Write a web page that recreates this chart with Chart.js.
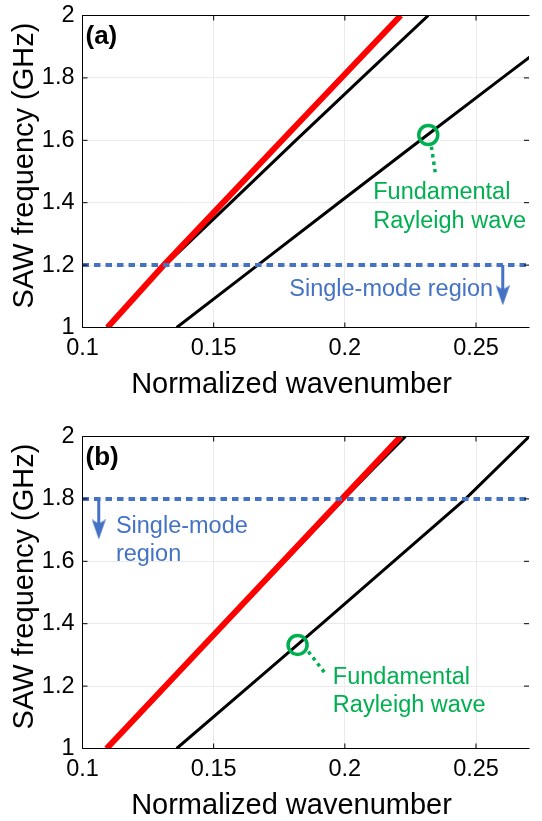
<!DOCTYPE html>
<html>
<head>
<meta charset="utf-8">
<script src="https://cdn.jsdelivr.net/npm/chart.js@4.4.1/dist/chart.umd.min.js"></script>
<style>
  html, body { margin: 0; padding: 0; background: #fff; overflow: hidden; }
  canvas { position: absolute; left: 0; }
  #panelA { top: 0; }
  #panelB { top: 421px; }
</style>
</head>
<body>
<canvas id="panelA" width="542" height="400"></canvas>
<canvas id="panelB" width="542" height="400"></canvas>
<script>
// axes
const kTicks = [0.1, 0.15, 0.2, 0.25];
const fTicks = [1, 1.2, 1.4, 1.6, 1.8, 2];
const kRange = [0.1, 0.2702];

// panel (a)
const aRedF = [1.0, 1.2, 1.6, 2.0];
const aRedK = [0.1095, 0.1310, 0.1761, 0.2213];
const aUpperF = [1.0, 1.2, 1.4, 1.6, 1.8, 2.0];
const aUpperK = [0.1095, 0.1315, 0.1565, 0.1813, 0.2065, 0.2318];
const aRayF = [1.0, 1.2, 1.4, 1.6, 1.8, 1.9];
const aRayK = [0.1359, 0.1668, 0.1977, 0.2288, 0.2600, 0.2757];
const aCutoff = 1.2;
const aMarker = [0.2318, 1.617];
const aLeaderK = [0.2330, 0.2345];
const aLeaderF = [1.5797, 1.4942];
const aArrow = [0.2602, 1.1029];

// panel (b)
const bRedF = [1.0, 1.4, 1.8, 2.0];
const bRedK = [0.1092, 0.1540, 0.1989, 0.2213];
const bUpperF = [1.0, 1.4, 1.8, 1.9, 2.0];
const bUpperK = [0.1092, 0.1544, 0.1996, 0.2112, 0.2231];
const bRayF = [1.0, 1.2, 1.4, 1.6, 1.8, 2.0];
const bRayK = [0.1359, 0.1636, 0.1913, 0.2186, 0.2460, 0.2703];
const bCutoff = 1.8;
const bMarker = [0.1820, 1.332];
const bLeaderK = [0.1861, 0.1923];
const bLeaderF = [1.3106, 1.243];
const bArrow = [0.1062, 1.702];

const FONT = "'Liberation Sans', Arial, Helvetica, sans-serif";
const BLUE = '#4472c4';
const GREEN = '#00b050';
const RED = '#ff0000';

// arrow head used as point style
const head = document.createElement('canvas');
head.width = 14; head.height = 20;
(function () {
    const g = head.getContext('2d');
    g.fillStyle = BLUE;
    g.beginPath();
    g.moveTo(0, 0); g.lineTo(7, 4); g.lineTo(14, 0); g.lineTo(7, 20);
    g.closePath();
    g.fill();
})();

function curve(k, f, color, width, dash) {
    return {
        type: 'line',
        data: k.map((v, i) => ({ x: v, y: f[i] })),
        borderColor: color,
        borderWidth: width,
        borderDash: dash || [],
        pointRadius: 0,
        tension: 0,
        fill: false,
        clip: 0
    };
}

function makeChart(id, label, d, notes) {
    const tickFont = { family: FONT, size: 23.5 };

    // box, inward ticks, titles and text notes
    const deco = {
        id: 'deco',
        afterDatasetsDraw(chart) {
            const { ctx, chartArea: a, scales: { x, y } } = chart;
            ctx.save();
            ctx.strokeStyle = '#000';
            ctx.lineWidth = 1;
            ctx.beginPath();
            ctx.moveTo(a.right + 0.5, a.top); ctx.lineTo(a.left, a.top);
            ctx.lineTo(a.left, a.bottom); ctx.lineTo(a.right + 0.5, a.bottom);
            kTicks.forEach(v => {
                const p = x.getPixelForValue(v);
                ctx.moveTo(p, a.bottom); ctx.lineTo(p, a.bottom - 5);
                ctx.moveTo(p, a.top); ctx.lineTo(p, a.top + 5);
            });
            fTicks.forEach(v => {
                const p = y.getPixelForValue(v);
                ctx.moveTo(a.left, p); ctx.lineTo(a.left + 5, p);
                ctx.moveTo(a.right, p); ctx.lineTo(a.right - 5, p);
            });
            ctx.stroke();

            ctx.fillStyle = '#000';
            ctx.textBaseline = 'alphabetic';
            ctx.font = `bold 26px ${FONT}`;
            ctx.textAlign = 'left';
            ctx.fillText(label, a.left + 3, a.top + 28);

            ctx.font = `29px ${FONT}`;
            ctx.textAlign = 'center';
            ctx.fillText('Normalized wavenumber', a.left + 209, a.bottom + 65);
            ctx.save();
            ctx.translate(a.left - 49.5, a.top + 150);
            ctx.rotate(-Math.PI / 2);
            ctx.fillText('SAW frequency (GHz)', 0, 0);
            ctx.restore();

            ctx.font = `23.5px ${FONT}`;
            ctx.textAlign = 'left';
            notes.forEach(n => {
                ctx.fillStyle = n.color;
                ctx.fillText(n.text, x.getPixelForValue(n.k) - 1.5, y.getPixelForValue(n.f));
            });
            ctx.restore();
        }
    };

    return new Chart(document.getElementById(id), {
        type: 'line',
        data: {
            datasets: [
                {
                    type: 'scatter',
                    data: [{ x: d.marker[0], y: d.marker[1] }],
                    pointStyle: 'circle',
                    pointRadius: 9.5,
                    pointBorderWidth: 3.5,
                    pointBorderColor: GREEN,
                    pointBackgroundColor: 'rgba(0,0,0,0)',
                    showLine: false,
                    clip: false
                },
                curve(d.leaderK, d.leaderF, GREEN, 3.5, [3.5, 4]),
                {
                    type: 'scatter',
                    data: [{ x: d.arrow[0], y: d.arrow[1] }],
                    pointStyle: head,
                    pointRadius: 5,
                    showLine: false,
                    clip: false
                },
                curve([d.arrow[0], d.arrow[0]], [d.cutoff, d.arrow[1]], BLUE, 3),
                curve(kRange, [d.cutoff, d.cutoff], BLUE, 4, [6.5, 5]),
                curve(d.redK, d.redF, RED, 6),
                curve(d.upperK, d.upperF, '#000', 3),
                curve(d.rayK, d.rayF, '#000', 3)
            ]
        },
        options: {
            responsive: false,
            animation: false,
            events: [],
            layout: { padding: { top: 15.5, right: 0, bottom: 0, left: 0 } },
            plugins: { legend: { display: false }, tooltip: { enabled: false } },
            scales: {
                x: {
                    type: 'linear',
                    min: kRange[0],
                    max: kRange[1],
                    afterBuildTicks: s => { s.ticks = kTicks.map(v => ({ value: v })); },
                    afterFit: s => { s.height = 72.5; s.paddingLeft = 0; s.paddingRight = 0; },
                    ticks: { callback: v => String(v), font: tickFont, color: '#000', padding: 7, maxRotation: 0, autoSkip: false },
                    grid: { color: '#ebebeb', drawTicks: false },
                    border: { display: false }
                },
                y: {
                    type: 'linear',
                    min: 1,
                    max: 2,
                    afterBuildTicks: s => { s.ticks = fTicks.map(v => ({ value: v })); },
                    afterFit: s => { s.width = 82.5; s.paddingTop = 0; s.paddingBottom = 0; },
                    ticks: { callback: v => String(v), font: tickFont, color: '#000', padding: 8, autoSkip: false },
                    grid: { color: '#ebebeb', drawTicks: false },
                    border: { display: false }
                }
            }
        },
        plugins: [deco]
    });
}

makeChart('panelA', '(a)', {
    redK: aRedK, redF: aRedF, upperK: aUpperK, upperF: aUpperF, rayK: aRayK, rayF: aRayF,
    cutoff: aCutoff, marker: aMarker, leaderK: aLeaderK, leaderF: aLeaderF, arrow: aArrow
}, [
    { text: 'Fundamental', k: 0.2114, f: 1.4106, color: GREEN },
    { text: 'Rayleigh wave', k: 0.2114, f: 1.3193, color: GREEN },
    { text: 'Single-mode region', k: 0.1794, f: 1.0997, color: BLUE }
]);

makeChart('panelB', '(b)', {
    redK: bRedK, redF: bRedF, upperK: bUpperK, upperF: bUpperF, rayK: bRayK, rayF: bRayF,
    cutoff: bCutoff, marker: bMarker, leaderK: bLeaderK, leaderF: bLeaderF, arrow: bArrow
}, [
    { text: 'Single-mode', k: 0.1133, f: 1.6913, color: BLUE },
    { text: 'region', k: 0.1133, f: 1.6, color: BLUE },
    { text: 'Fundamental', k: 0.1960, f: 1.2068, color: GREEN },
    { text: 'Rayleigh wave', k: 0.1960, f: 1.1158, color: GREEN }
]);
</script>
</body>
</html>
